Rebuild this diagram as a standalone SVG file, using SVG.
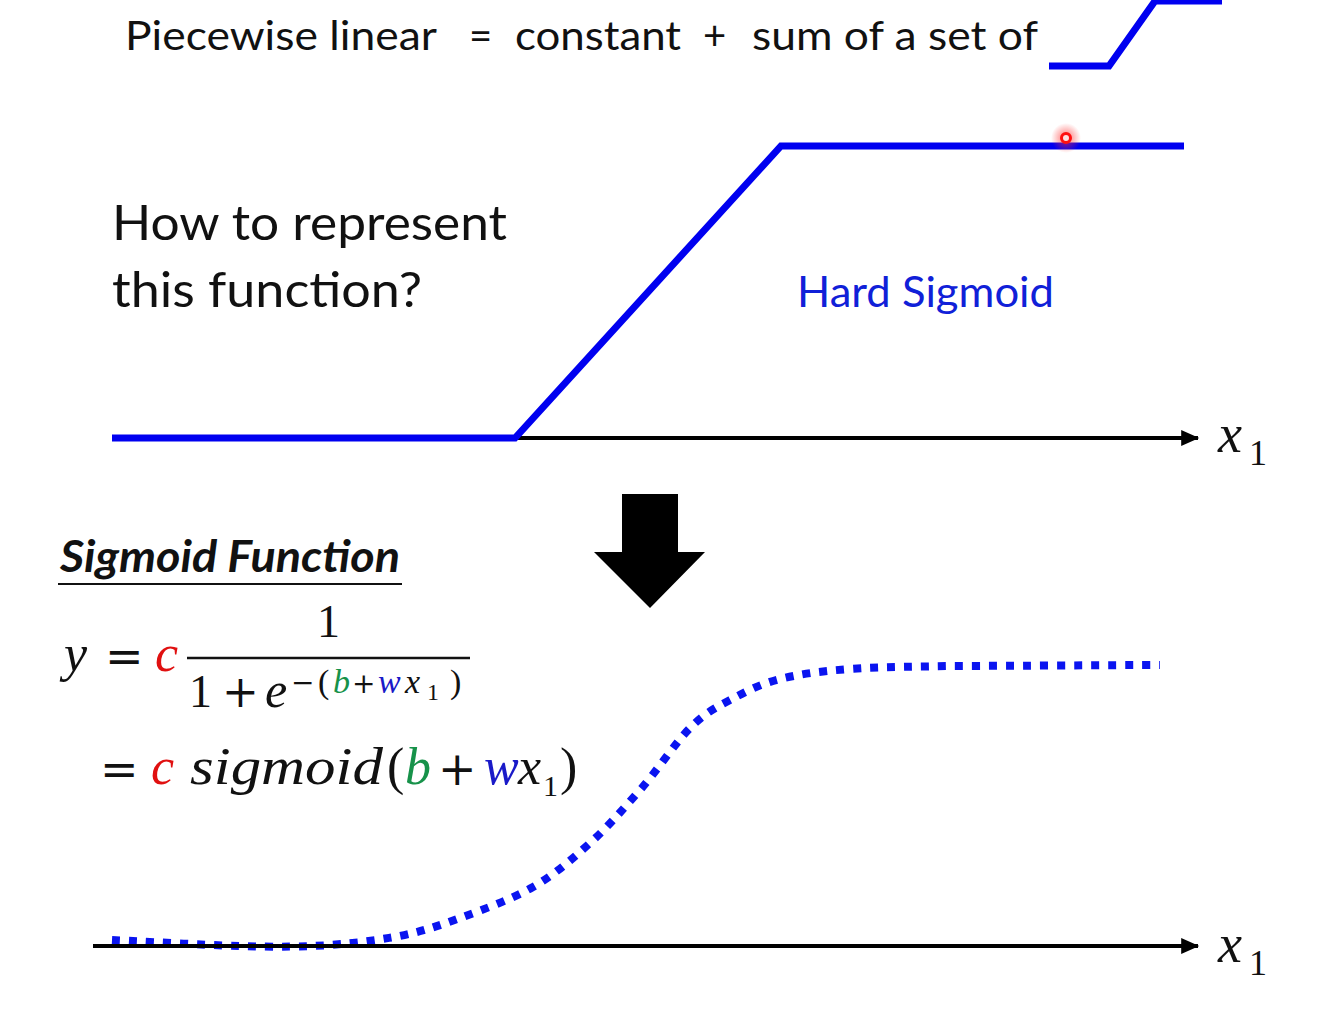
<svg xmlns="http://www.w3.org/2000/svg" width="1339" height="1009" viewBox="0 0 1339 1009">
  <defs>
    <style>
      .sans { font-family: Lato, "Liberation Sans", sans-serif; fill: #111; }
      .math { font-family: "Liberation Serif", "DejaVu Serif", serif; fill: #111; }
      .op { font-family: "DejaVu Serif", "Liberation Serif", serif; fill: #111; }
      .it { font-style: italic; }
      .red { fill: #e01010; }
      .grn { fill: #17924a; }
      .blu { fill: #1a1ac8; }
      .bline { fill: none; stroke: #0000f0; stroke-width: 7; }
      .axis { fill: none; stroke: #000; stroke-width: 4; }
    </style>
    <marker id="ah" markerWidth="5" markerHeight="5" refX="4.2" refY="2.5" orient="auto" markerUnits="strokeWidth">
      <path d="M0,0.5 L4.5,2.5 L0,4.5 Z" fill="#000"/>
    </marker>
    <radialGradient id="glow">
      <stop offset="0" stop-color="#ff3030" stop-opacity="0.7"/>
      <stop offset="1" stop-color="#ff3030" stop-opacity="0"/>
    </radialGradient>
  </defs>
  <rect width="1339" height="1009" fill="#fff"/>

  <g id="title">
    <text class="sans" x="125" y="50" font-size="40" textLength="312" lengthAdjust="spacingAndGlyphs">Piecewise linear</text>
    <text class="sans" x="469" y="50" font-size="40">=</text>
    <text class="sans" x="515" y="50" font-size="40" textLength="166" lengthAdjust="spacingAndGlyphs">constant</text>
    <text class="sans" x="703" y="50" font-size="40">+</text>
    <text class="sans" x="752" y="50" font-size="40" textLength="286" lengthAdjust="spacingAndGlyphs">sum of a set of</text>
    <polyline class="bline" points="1049,66 1109,66 1155,1 1222,1"/>
  </g>

  <g id="question">
    <text class="sans" x="112" y="240" font-size="48" textLength="395" lengthAdjust="spacingAndGlyphs">How to represent</text>
    <text class="sans" x="112" y="307" font-size="48" textLength="310" lengthAdjust="spacingAndGlyphs">this function?</text>
  </g>

  <g id="hard-sigmoid">
    <line class="axis" x1="515" y1="438" x2="1198" y2="438" marker-end="url(#ah)"/>
    <polyline class="bline" points="112,438 515,438 781,146 1184,146"/>
    <text class="sans" x="797" y="307" font-size="42" style="fill:#1020d8" textLength="257" lengthAdjust="spacingAndGlyphs">Hard Sigmoid</text>
    <text class="math it" x="1218" y="452" font-size="54">x</text>
    <text class="math" x="1249" y="465" font-size="36">1</text>
    <circle cx="1066" cy="138" r="15" fill="url(#glow)"/>
    <circle cx="1066" cy="138" r="4.5" fill="#ffe0e0" stroke="#ff1010" stroke-width="3"/>
  </g>

  <g id="down-arrow">
    <polygon points="622,494 678,494 678,552 705,552 650,608 594,552 622,552" fill="#000"/>
  </g>

  <g id="sigmoid-formula">
    <text class="sans" x="60" y="572" font-size="44" font-weight="bold" font-style="italic" textLength="340" lengthAdjust="spacingAndGlyphs">Sigmoid Function</text>
    <line x1="58" y1="584" x2="402" y2="584" stroke="#111" stroke-width="2"/>
    <text class="math it" x="64" y="671" font-size="52">y</text>
    <text class="op" x="105" y="672" font-size="46">=</text>
    <text class="math it red" x="155" y="671" font-size="52">c</text>
    <text class="math" x="317" y="637" font-size="46">1</text>
    <line x1="187" y1="658" x2="470" y2="658" stroke="#111" stroke-width="2.5"/>
    <text class="math" x="189" y="707" font-size="46">1</text>
    <text class="op" x="222" y="707" font-size="44">+</text>
    <text class="math it" x="265" y="707" font-size="50">e</text>
    <text class="op" x="291" y="692" font-size="28">−</text>
    <text class="math" x="318" y="693" font-size="34">(</text>
    <text class="math it grn" x="333" y="693" font-size="34">b</text>
    <text class="op" x="352" y="693" font-size="28">+</text>
    <text class="math it blu" x="378" y="693" font-size="34">w</text>
    <text class="math it" x="405" y="693" font-size="34">x</text>
    <text class="math" x="427" y="700" font-size="24">1</text>
    <text class="math" x="450" y="693" font-size="34">)</text>

    <text class="op" x="100" y="785" font-size="46">=</text>
    <text class="math it red" x="151" y="784" font-size="52">c</text>
    <text class="math it" x="190" y="784" font-size="52" textLength="193" lengthAdjust="spacingAndGlyphs">sigmoid</text>
    <text class="math" x="387" y="784" font-size="52">(</text>
    <text class="math it grn" x="405" y="784" font-size="52">b</text>
    <text class="op" x="438" y="785" font-size="46">+</text>
    <text class="math it blu" x="484" y="784" font-size="52">w</text>
    <text class="math it" x="518" y="784" font-size="52">x</text>
    <text class="math" x="543" y="796" font-size="30">1</text>
    <text class="math" x="560" y="784" font-size="52">)</text>
  </g>

  <g id="sigmoid-plot">
    <path d="M112,940 C133,941 204,945 240,946 C276,947 303,947 330,945 C357,943 378,940 400,936 C422,931.5 438,926 460,918 C482,910 511,899.5 533,887 C555,874.5 572,859 590,843 C608,827 623,809 640,790 C657,771 675,743 690,728 C705,713 715,708 730,700 C745,692 760,684 780,679 C800,674 822,671 850,669 C878,667 898,667 950,666 C985,666 1125,665 1160,665" fill="none" stroke="#0a14f0" stroke-width="8" stroke-dasharray="8 9"/>
    <line class="axis" x1="93" y1="946" x2="1198" y2="946" marker-end="url(#ah)"/>
    <text class="math it" x="1218" y="962" font-size="54">x</text>
    <text class="math" x="1249" y="975" font-size="36">1</text>
  </g>
</svg>
